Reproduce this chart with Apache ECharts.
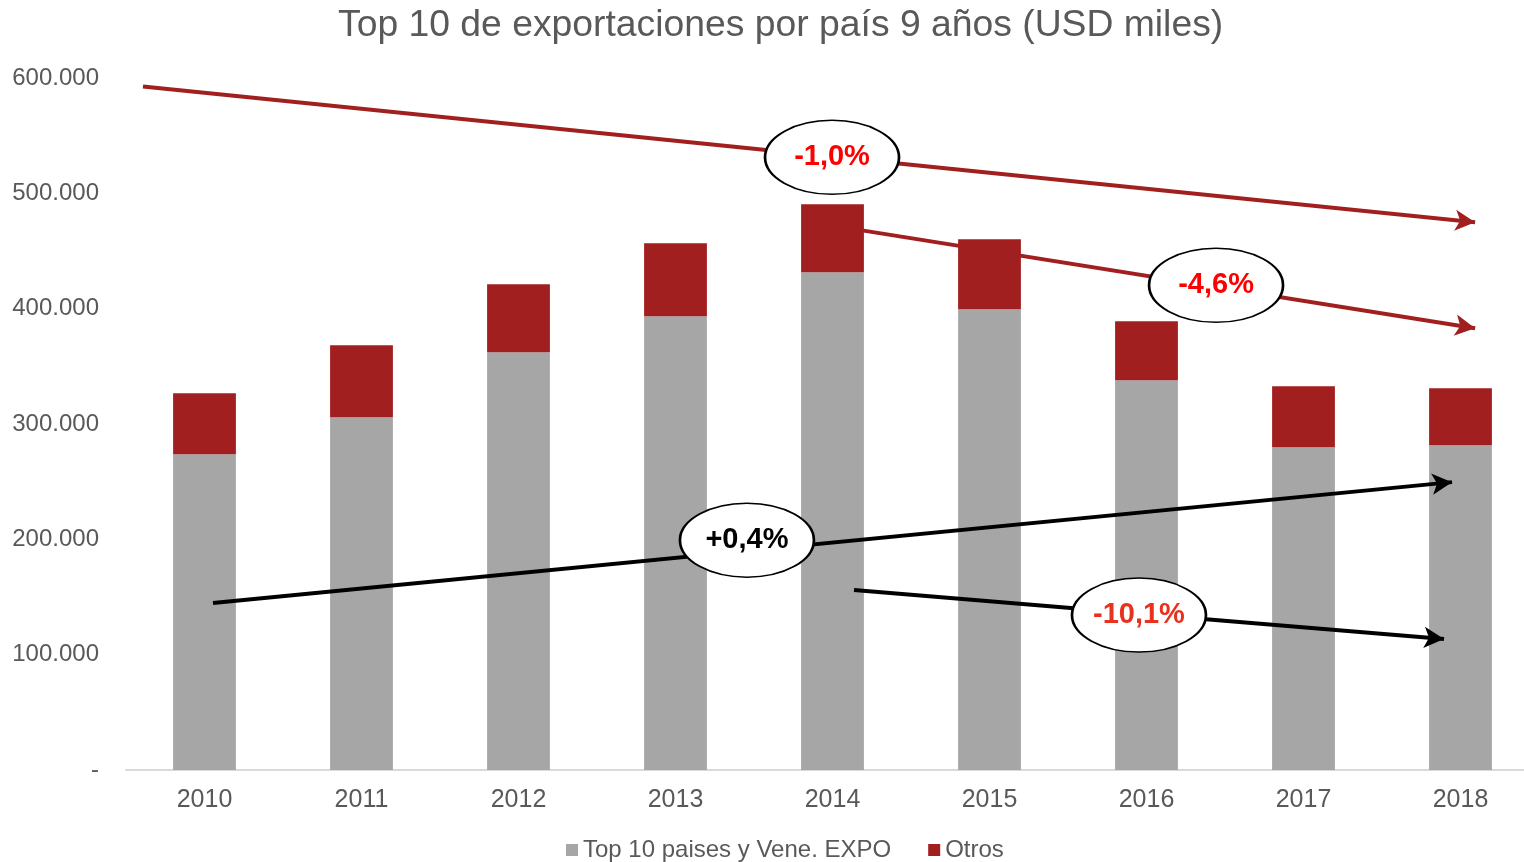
<!DOCTYPE html>
<html>
<head>
<meta charset="utf-8">
<script src="https://cdn.jsdelivr.net/npm/echarts@6/dist/echarts.min.js"></script>
<style>html,body{margin:0;padding:0;background:#fff}#c{width:1524px;height:862px}</style>
</head>
<body>
<div id="c"></div>
<script>
const categories = ['2010','2011','2012','2013','2014','2015','2016','2017','2018'];
const top10 = [273800, 305900, 362200, 393400, 431500, 399500, 338000, 279900, 281600];
const otros = [52900, 62400, 58900, 63300, 59000, 60600, 51100, 52900, 49400];
const yTicks = [0, 100000, 200000, 300000, 400000, 500000, 600000];
// annotation arrows: [xStart, yStart, xEnd, yEnd] in category-index / value units
const arrowsRed = [[-0.392, 592700, 8.093, 474900], [4.188, 467900, 8.093, 383000]];
const arrowsBlack = [[0.054, 144700, 7.946, 249600], [4.137, 156000, 7.895, 113500]];
// ellipse labels: [x, y, text, colour]
const bubbles = [[3.997, 531200, '-1,0%', '#FF0000'], [6.443, 420300, '-4,6%', '#FF0000'], [3.455, 199300, '+0,4%', '#000000'], [5.952, 134300, '-10,1%', '#E8321E']];

const fmt = v => v === 0 ? '-' : String(Math.round(v)).replace(/\B(?=(\d{3})+(?!\d))/g, '.');
const ellipse = 'path://M0,50 A50,50 0 1,1 100,50 A50,50 0 1,1 0,50 Z';
const FONT = '"Liberation Sans", Arial, sans-serif';

function arrowLines(list, color, width) {
  return list.map(a => [
    {coord: [a[0], a[1]], lineStyle: {color: color, width: width, type: 'solid'}},
    {coord: [a[2], a[3]]}
  ]);
}

const chart = echarts.init(document.getElementById('c'), null, {renderer: 'canvas'});
chart.setOption({
  animation: false,
  textStyle: {fontFamily: FONT},
  title: {
    text: 'Top 10 de exportaciones por país 9 años (USD miles)',
    left: 333, top: 2,
    textStyle: {fontFamily: FONT, fontSize: 37.3, fontWeight: 'normal', color: '#595959'}
  },
  legend: {
    bottom: -5, left: 561,
    data: ['Top 10 paises y Vene. EXPO', 'Otros'],
    itemWidth: 12, itemHeight: 12, itemGap: 37,
    icon: 'rect',
    textStyle: {fontFamily: FONT, fontSize: 24, color: '#595959'}
  },
  grid: {left: 126, width: 1413, top: 78, bottom: 92, containLabel: false, outerBoundsMode: 'none'},
  xAxis: [{
    type: 'category', data: categories,
    axisLine: {lineStyle: {color: '#D9D9D9', width: 2}},
    axisTick: {show: false},
    axisLabel: {fontFamily: FONT, fontSize: 25, color: '#595959', margin: 18}
  }, {
    type: 'value', min: -0.5, max: 8.5, show: false
  }],
  yAxis: {
    type: 'value', min: 0, max: 600000, interval: 100000,
    axisLine: {show: false}, axisTick: {show: false},
    splitLine: {show: false},
    axisLabel: {fontFamily: FONT, fontSize: 24, color: '#595959', margin: 27, formatter: fmt}
  },
  series: [{
    name: 'Top 10 paises y Vene. EXPO', type: 'bar', stack: 'total',
    data: top10, barWidth: '40%', itemStyle: {color: '#A6A6A6'}, silent: true
  }, {
    name: 'Otros', type: 'bar', stack: 'total',
    data: otros, barWidth: '40%', itemStyle: {color: '#A21F20'}, silent: true
  }, {
    name: 'arrows', type: 'line', xAxisIndex: 1, yAxisIndex: 0, data: [], z: 10, silent: true,
    markLine: {
      silent: true, symbol: ['none', 'arrow'], symbolSize: [16, 20],
      label: {show: false}, emphasis: {disabled: true},
      data: arrowLines(arrowsRed, '#A21F20', 4).concat(arrowLines(arrowsBlack, '#000000', 4))
    }
  }, {
    name: 'bubbles', type: 'line', xAxisIndex: 1, yAxisIndex: 0, data: [], z: 12, silent: true,
    markPoint: {
      silent: true, symbol: ellipse, symbolSize: [134, 74],
      itemStyle: {color: '#FFFFFF', borderColor: '#000000', borderWidth: 2},
      data: bubbles.map(b => ({
        coord: [b[0], b[1]], value: b[2],
        label: {show: true, formatter: b[2], color: b[3], fontFamily: FONT, fontSize: 29, fontWeight: 'bold'}
      }))
    }
  }]
});
</script>
</body>
</html>
